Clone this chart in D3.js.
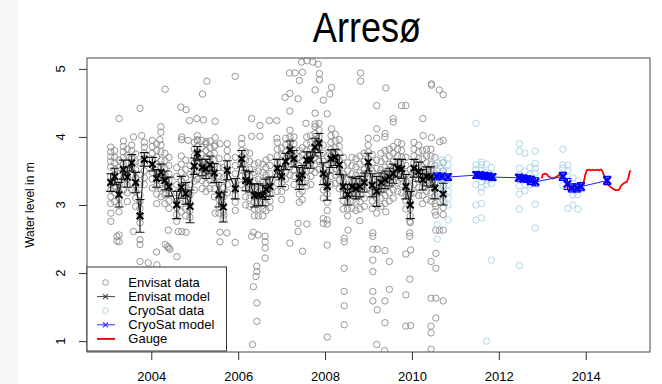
<!DOCTYPE html>
<html><head><meta charset="utf-8">
<script src="https://cdn.jsdelivr.net/npm/d3@7/dist/d3.min.js"></script>
<style>
html,body{margin:0;padding:0;background:#fff;}
svg{display:block;font-family:"Liberation Sans",Arial,Helvetica,sans-serif;}
</style></head><body>
<svg id="chart" width="662" height="384"></svg>
<script>
// ---- labels and axis settings ----
const titleText = "Arresø";
const yLabel = "Water level in m";
const xTicks = [2004, 2006, 2008, 2010, 2012, 2014];
const yTicks = [1, 2, 3, 4, 5];
const xLimits = [2003, 2015];
const yLimits = [1, 5];
const legendLabels = ["Envisat data", "Envisat model", "CryoSat data", "CryoSat model", "Gauge"];

// ---- Envisat model (per pass) ----
const envTime = [2003.066,2003.158,2003.257,2003.356,2003.448,2003.549,2003.641,2003.740,2003.839,2004.023,
  2004.124,2004.223,2004.315,2004.407,2004.585,2004.690,2004.792,2004.891,2004.990,2005.059,
  2005.167,2005.259,2005.351,2005.450,2005.558,2005.657,2005.749,2005.933,2006.081,2006.173,
  2006.265,2006.371,2006.463,2006.564,2006.640,2006.732,2006.900,2007.001,2007.093,2007.192,
  2007.284,2007.406,2007.475,2007.577,2007.669,2007.768,2007.860,2007.959,2008.051,2008.136,
  2008.235,2008.327,2008.419,2008.520,2008.619,2008.711,2008.803,2008.902,2008.994,2009.086,
  2009.188,2009.287,2009.379,2009.478,2009.570,2009.671,2009.763,2009.862,2009.961,2010.046,
  2010.154,2010.246,2010.338,2010.437,2010.529,2010.720];
const envLevel = [3.33,3.42,3.15,3.52,3.41,3.62,3.33,2.84,3.67,3.60,
  3.39,3.48,3.36,3.27,3.00,3.26,3.17,2.98,3.57,3.76,
  3.55,3.53,3.59,3.47,3.15,2.97,3.51,3.24,3.68,3.36,
  3.34,3.14,3.15,3.14,3.23,3.27,3.54,3.42,3.64,3.81,
  3.68,3.39,3.44,3.66,3.66,3.85,3.91,3.46,3.27,3.68,
  3.70,3.59,3.27,3.15,3.27,3.24,3.27,3.33,3.63,3.29,
  3.20,3.33,3.37,3.41,3.46,3.54,3.53,3.27,3.00,3.54,
  3.49,3.37,3.42,3.41,3.25,3.16];
const envErr = [0.13,0.12,0.18,0.14,0.15,0.12,0.15,0.24,0.10,0.10,
  0.13,0.12,0.14,0.14,0.20,0.16,0.16,0.24,0.12,0.10,
  0.12,0.14,0.13,0.14,0.18,0.22,0.14,0.15,0.12,0.15,
  0.15,0.17,0.16,0.15,0.15,0.14,0.13,0.15,0.12,0.13,
  0.12,0.16,0.14,0.12,0.12,0.13,0.14,0.16,0.20,0.13,
  0.12,0.14,0.17,0.15,0.14,0.15,0.15,0.14,0.13,0.17,
  0.22,0.14,0.13,0.13,0.14,0.13,0.14,0.18,0.20,0.13,
  0.14,0.15,0.14,0.15,0.16,0.16];

// ---- Envisat observations grouped by pass (same order as envTime) ----
const envColumns = [
  [3.85,3.78,3.71,3.64,3.56,3.42,3.30,3.22,3.12,3.02],
  [3.80,3.70,3.62,3.52,3.45,3.36,3.28,3.18,3.05],
  [3.66,3.55,3.42,3.30,3.20,3.10,3.00,2.90],
  [3.86,3.78,3.70,3.60,3.50,3.40,3.31,3.22],
  [3.82,3.73,3.62,3.50,3.40,3.30,3.18,3.05],
  [3.88,3.80,3.70,3.62,3.54,3.45,3.32,3.22],
  [3.75,3.64,3.52,3.40,3.30,3.20,3.10,2.98],
  [3.62,3.45,3.30,3.15,3.05,2.95,2.85,2.74],
  [3.92,3.85,3.76,3.68,3.60,3.50,3.40,3.30],
  [3.95,3.86,3.76,3.66,3.58,3.48,3.38,3.25],
  [3.80,3.70,3.60,3.48,3.38,3.28,3.16,3.02],
  [3.88,3.78,3.66,3.55,3.45,3.36,3.24,3.12],
  [3.76,3.65,3.54,3.44,3.35,3.25,3.15,3.02],
  [3.70,3.58,3.46,3.36,3.26,3.16,3.06,2.95],
  [3.55,3.42,3.30,3.18,3.06,2.96,2.86,2.76],
  [3.72,3.60,3.48,3.36,3.26,3.14,3.02,2.90],
  [3.66,3.52,3.40,3.28,3.16,3.05,2.94,2.84],
  [3.58,3.45,3.30,3.15,3.02,2.92,2.82],
  [3.92,3.82,3.72,3.62,3.54,3.45,3.35,3.22],
  [4.02,3.95,3.86,3.78,3.70,3.60,3.50,3.38],
  [3.95,3.85,3.74,3.64,3.55,3.46,3.36,3.24],
  [3.90,3.80,3.70,3.60,3.52,3.42,3.32,3.20],
  [3.94,3.84,3.74,3.65,3.56,3.46,3.36,3.24],
  [3.86,3.76,3.66,3.56,3.46,3.36,3.24,3.12],
  [3.68,3.55,3.42,3.30,3.18,3.08,2.98,2.88],
  [3.55,3.40,3.26,3.12,3.00,2.90,2.80],
  [3.90,3.80,3.70,3.60,3.50,3.40,3.30,3.18],
  [3.70,3.58,3.46,3.34,3.24,3.14,3.04,2.92],
  [3.98,3.90,3.80,3.70,3.62,3.52,3.42,3.30],
  [3.78,3.66,3.54,3.44,3.34,3.24,3.12,3.00],
  [3.76,3.64,3.52,3.42,3.32,3.22,3.10,2.98],
  [3.60,3.48,3.36,3.24,3.14,3.04,2.94,2.84],
  [3.62,3.50,3.38,3.26,3.14,3.04,2.94,2.84],
  [3.60,3.48,3.36,3.25,3.14,3.04,2.94,2.84],
  [3.66,3.55,3.44,3.32,3.22,3.12,3.02,2.92],
  [3.70,3.58,3.46,3.36,3.26,3.16,3.06,2.96],
  [3.92,3.82,3.72,3.62,3.52,3.42,3.32,3.20],
  [3.84,3.74,3.62,3.52,3.42,3.32,3.20,3.08],
  [3.98,3.88,3.78,3.68,3.58,3.48,3.38,3.26],
  [4.10,4.00,3.92,3.84,3.75,3.66,3.56,3.44],
  [4.00,3.90,3.80,3.70,3.62,3.52,3.42,3.30],
  [3.80,3.70,3.58,3.48,3.38,3.28,3.16,3.04],
  [3.84,3.74,3.64,3.52,3.42,3.32,3.20,3.08],
  [4.00,3.90,3.80,3.70,3.60,3.50,3.40,3.28],
  [4.02,3.92,3.82,3.72,3.62,3.52,3.42,3.30],
  [4.15,4.05,3.96,3.88,3.80,3.70,3.60,3.48],
  [4.20,4.10,4.00,3.92,3.84,3.74,3.64,3.52],
  [3.88,3.76,3.64,3.54,3.44,3.34,3.22,3.10],
  [3.72,3.60,3.48,3.36,3.26,3.16,3.04,2.92],
  [4.02,3.92,3.82,3.72,3.62,3.52,3.42,3.30],
  [4.04,3.94,3.84,3.74,3.64,3.54,3.44,3.32],
  [3.96,3.86,3.76,3.66,3.56,3.46,3.36,3.24],
  [3.70,3.58,3.46,3.36,3.26,3.16,3.06,2.94],
  [3.62,3.50,3.38,3.26,3.14,3.04,2.94,2.84],
  [3.70,3.58,3.46,3.36,3.26,3.16,3.06,2.95],
  [3.68,3.56,3.44,3.34,3.24,3.14,3.04,2.92],
  [3.72,3.60,3.48,3.36,3.26,3.16,3.05,2.94],
  [3.76,3.64,3.52,3.42,3.32,3.22,3.10,2.98],
  [3.98,3.88,3.78,3.68,3.58,3.48,3.38,3.26],
  [3.74,3.62,3.50,3.38,3.28,3.18,3.06,2.95],
  [3.66,3.54,3.42,3.30,3.20,3.10,3.00,2.88],
  [3.76,3.64,3.52,3.42,3.32,3.22,3.10,2.98],
  [3.80,3.68,3.56,3.46,3.36,3.26,3.14,3.02],
  [3.82,3.72,3.60,3.50,3.40,3.30,3.18,3.06],
  [3.86,3.76,3.64,3.54,3.44,3.34,3.22,3.10],
  [3.92,3.82,3.72,3.62,3.52,3.42,3.32,3.20],
  [3.90,3.80,3.70,3.60,3.50,3.40,3.30,3.18],
  [3.70,3.58,3.46,3.36,3.26,3.16,3.06,2.94],
  [3.52,3.40,3.28,3.16,3.04,2.94,2.84,2.74],
  [3.92,3.82,3.72,3.62,3.52,3.42,3.30,3.18],
  [3.88,3.78,3.68,3.58,3.48,3.38,3.26,3.14],
  [3.80,3.68,3.56,3.46,3.36,3.26,3.14,3.02],
  [3.82,3.72,3.62,3.52,3.42,3.32,3.20,3.08],
  [3.82,3.72,3.60,3.50,3.40,3.30,3.18,3.06],
  [3.70,3.58,3.46,3.34,3.24,3.14,3.02,2.90],
  [3.62,3.50,3.38,3.28,3.16,3.06,2.96,2.86]
];
// Envisat observations far from the pass median: [time, level]
const envOutliers = [
  [2005.93,4.89],[2005.28,4.82],[2004.32,4.70],[2005.18,4.63],[2003.74,4.42],[2004.68,4.44],[2004.80,4.40],
  [2003.26,4.27],[2004.88,4.24],[2005.05,4.27],[2005.20,4.25],[2005.47,4.23],[2006.31,4.27],[2006.50,4.17],
  [2006.72,4.24],[2004.22,4.15],[2004.22,4.07],[2003.59,4.00],[2003.36,3.94],[2003.78,4.02],[2004.20,3.96],
  [2004.12,3.90],[2004.70,4.00],[2004.70,3.96],[2004.85,3.95],[2005.06,3.96],[2005.26,3.93],[2005.47,3.99],
  [2005.47,3.88],[2005.58,3.90],[2006.31,4.01],[2006.50,4.01],[2006.89,3.98],
  [2003.07,2.88],[2003.07,2.76],[2003.26,2.56],[2003.26,2.46],[2003.59,2.61],[2003.74,2.49],[2003.74,2.42],
  [2003.74,2.17],[2004.12,2.31],[2004.37,2.39],[2004.43,2.35],[2003.93,2.15],[2004.59,2.24],[2004.39,2.63],
  [2004.62,2.61],[2004.70,2.61],[2004.80,2.60],[2005.47,2.88],[2005.67,2.85],[2005.58,2.60],[2005.58,2.46],
  [2005.74,2.59],[2005.93,2.45],[2006.35,2.60],[2006.31,2.54],[2006.46,2.56],[2006.62,2.54],[2006.62,2.46],
  [2006.62,2.37],[2006.62,2.22],[2006.43,2.10],[2006.43,2.02],[2006.41,1.95],[2006.35,1.80],[2006.43,1.56],
  [2006.43,1.29],[2006.33,0.95],[2003.21,2.54],[2003.21,2.47],[2004.32,2.42],[2004.40,2.37],[2004.13,2.12],
  [2007.46,5.10],[2007.58,5.12],[2007.72,5.10],[2007.84,5.07],[2007.18,4.94],[2007.31,4.94],[2007.48,4.95],
  [2007.87,4.93],[2007.41,4.83],[2007.87,4.84],[2008.82,4.94],[2008.82,4.82],[2008.15,4.73],[2008.11,4.63],
  [2007.77,4.69],[2007.96,4.54],[2008.05,4.34],[2009.40,4.72],[2007.08,4.58],[2007.19,4.64],[2007.38,4.56],
  [2007.77,4.35],[2007.19,4.38],[2006.89,4.24],[2009.19,4.46],[2009.76,4.46],[2009.86,4.46],[2009.57,4.27],
  [2009.57,4.22],[2010.25,4.27],[2010.45,4.78],[2010.45,4.76],[2010.63,4.69],[2010.72,4.62],[2009.19,4.12],
  [2009.19,3.98],[2009.38,4.05],[2009.38,4.00],[2007.56,4.20],[2007.77,4.19],[2008.15,4.12],[2010.26,4.02],
  [2010.45,3.99],[2010.64,3.93],[2010.72,3.95],
  [2007.38,2.73],[2007.38,2.61],[2007.58,2.72],[2007.96,2.80],[2007.96,2.73],[2008.05,2.78],[2008.05,2.72],
  [2008.44,2.51],[2008.44,2.46],[2008.53,2.63],[2008.80,2.77],[2008.05,2.41],[2007.48,2.32],[2008.44,2.07],
  [2009.10,2.59],[2009.10,2.54],[2009.10,2.35],[2009.10,2.19],[2009.10,2.02],[2009.10,1.73],[2009.10,1.59],
  [2009.20,2.35],[2009.20,1.46],[2009.38,2.33],[2009.38,1.59],[2009.38,1.27],[2009.48,2.17],[2009.48,1.76],
  [2008.44,1.73],[2008.44,1.52],[2008.44,1.24],[2008.05,1.06],[2009.19,0.95],[2009.86,1.22],[2009.86,1.68],
  [2009.86,2.28],[2009.97,1.23],[2009.97,2.34],[2009.95,1.91],[2009.95,2.76],[2009.95,2.59],[2009.95,2.54],
  [2010.44,2.17],[2010.44,1.63],[2010.44,1.22],[2010.44,1.12],[2010.55,2.07],[2010.55,2.29],[2010.55,1.63],
  [2010.55,1.34],[2010.55,2.63],[2010.55,2.85],[2010.55,2.98],[2010.72,1.59],[2010.72,2.63],[2010.63,2.63],
  [2009.40,2.90],[2007.19,2.44],[2009.37,0.86],[2010.44,0.88]
];

// ---- CryoSat model ----
const cryoTime = [2010.575,2010.690,2010.829,2011.484,2011.565,2011.669,2011.761,2011.853,2012.463,2012.566,
  2012.658,2012.739,2012.842,2013.475,2013.579,2013.682,2013.797,2013.890,2014.495];
const cryoLevel = [3.42,3.42,3.41,3.44,3.44,3.43,3.42,3.41,3.40,3.39,
  3.38,3.36,3.34,3.42,3.31,3.25,3.25,3.27,3.36];
const cryoErr = [0.05,0.05,0.05,0.05,0.04,0.05,0.05,0.05,0.05,0.05,
  0.05,0.06,0.06,0.06,0.08,0.06,0.06,0.06,0.06];

// ---- CryoSat observations grouped by pass ----
const cryoDataTime = [2010.582,2010.690,2010.835,2011.473,2011.600,2011.715,2011.830,
  2012.474,2012.601,2012.716,2012.838,2013.475,2013.590,2013.705,2013.820];
const cryoDataColumns = [
  [3.62,3.50,3.30,3.18,2.71,2.50],
  [3.66,3.55,3.38,3.22,3.10],
  [3.69,3.59,3.49,3.39,3.30,3.20,3.10,3.00,2.78],
  [4.20,3.59,3.52,3.30,3.00,2.78],
  [3.63,3.59,3.51,3.41,3.34,3.26,3.19,3.02,2.81],
  [3.60,3.48,3.36,3.30,1.00],
  [3.55,3.45,3.38,3.32,2.19],
  [3.90,3.79,3.54,3.44,3.37,3.28,3.16,2.94,2.11],
  [3.76,3.50,3.40,3.30,3.21],
  [3.55,3.45,3.38,3.30],
  [3.79,3.61,3.54,3.47,3.36,3.01,2.66],
  [3.82,3.59,3.54,3.44,3.29],
  [3.59,3.50,3.37,3.26,2.95],
  [3.40,3.22,3.15,3.00],
  [3.35,3.22,3.15,2.94]
];

// ---- in-situ gauge ----
const gaugeTime = [2012.985,2013.015,2013.061,2013.107,2013.142,2013.199,2013.245,2013.291,2013.337,2013.383,
  2013.429,2013.475,2013.521,2013.567,2013.613,2013.659,2013.728,2013.797,2013.866,2013.912,
  2013.959,2013.993,2014.028,2014.074,2014.120,2014.166,2014.212,2014.258,2014.304,2014.350,
  2014.384,2014.419,2014.465,2014.511,2014.557,2014.603,2014.649,2014.695,2014.741,2014.776,
  2014.810,2014.856,2014.902,2014.948,2014.983,2015.006,2015.029];
const gaugeLevel = [3.39,3.45,3.46,3.45,3.42,3.40,3.39,3.40,3.42,3.44,
  3.45,3.42,3.35,3.30,3.26,3.24,3.23,3.23,3.25,3.28,
  3.35,3.45,3.51,3.52,3.51,3.52,3.51,3.52,3.51,3.52,
  3.50,3.44,3.36,3.30,3.27,3.25,3.23,3.22,3.22,3.23,
  3.28,3.31,3.33,3.34,3.40,3.47,3.51];

// ---- drawing ----
const W = 662, H = 384;
const plot = {left: 87, right: 650, top: 58, bottom: 352};
const svg = d3.select("#chart");

// R-style 4% axis extension
const ext = lim => [lim[0] - 0.04 * (lim[1] - lim[0]), lim[1] + 0.04 * (lim[1] - lim[0])];
const x = d3.scaleLinear().domain(ext(xLimits)).range([plot.left, plot.right]);
const y = d3.scaleLinear().domain(ext(yLimits)).range([plot.bottom, plot.top]);

svg.append("rect").attr("width", W).attr("height", H).attr("fill", "#fff");
svg.append("rect").attr("width", 18).attr("height", H).attr("fill", "#f6f6f6");

svg.append("defs").append("clipPath").attr("id", "plotclip")
  .append("rect").attr("x", plot.left).attr("y", plot.top)
  .attr("width", plot.right - plot.left).attr("height", plot.bottom - plot.top);

const g = svg.append("g").attr("clip-path", "url(#plotclip)");

const crossPath = s => `M${-s},${-s}L${s},${s}M${-s},${s}L${s},${-s}`;

// Envisat observations
const envPoints = envColumns.flatMap((col, i) => col.map(v => [envTime[i], v])).concat(envOutliers);
g.append("g").selectAll("circle").data(envPoints).join("circle")
  .attr("cx", d => x(d[0])).attr("cy", d => y(d[1])).attr("r", 3.2)
  .attr("fill", "none").attr("stroke", "#8c8c8c").attr("stroke-width", 0.9);

// CryoSat observations
const cryoPoints = cryoDataColumns.flatMap((col, i) => col.map(v => [cryoDataTime[i], v]));
g.append("g").selectAll("circle").data(cryoPoints).join("circle")
  .attr("cx", d => x(d[0])).attr("cy", d => y(d[1])).attr("r", 3.2)
  .attr("fill", "none").attr("stroke", "#a9d3e3").attr("stroke-width", 0.9);

// Envisat model: line, error bars, markers
const envModel = envTime.map((t, i) => ({t, v: envLevel[i], e: envErr[i]}));
g.append("path").datum(envModel)
  .attr("d", d3.line().x(d => x(d.t)).y(d => y(d.v)))
  .attr("fill", "none").attr("stroke", "#111").attr("stroke-width", 1);
const envBars = g.append("g").attr("stroke", "#111").attr("stroke-width", 1.1);
envModel.forEach(d => {
  const cx = x(d.t), y0 = y(d.v - d.e), y1 = y(d.v + d.e);
  envBars.append("path").attr("d", `M${cx},${y0}V${y1}M${cx - 4.5},${y0}H${cx + 4.5}M${cx - 4.5},${y1}H${cx + 4.5}`);
});
g.append("g").selectAll("path").data(envModel).join("path")
  .attr("transform", d => `translate(${x(d.t)},${y(d.v)})`)
  .attr("d", crossPath(3.3)).attr("stroke", "#000").attr("stroke-width", 2);

// Gauge
const gauge = gaugeTime.map((t, i) => ({t, v: gaugeLevel[i]}));
g.append("path").datum(gauge)
  .attr("d", d3.line().x(d => x(d.t)).y(d => y(d.v)))
  .attr("fill", "none").attr("stroke", "#ff0000").attr("stroke-width", 1.8);

// CryoSat model
const cryoModel = cryoTime.map((t, i) => ({t, v: cryoLevel[i], e: cryoErr[i]}));
g.append("path").datum(cryoModel)
  .attr("d", d3.line().x(d => x(d.t)).y(d => y(d.v)))
  .attr("fill", "none").attr("stroke", "#2020ff").attr("stroke-width", 1);
const cryoBars = g.append("g").attr("stroke", "#0000ff").attr("stroke-width", 1.1);
cryoModel.forEach(d => {
  const cx = x(d.t), y0 = y(d.v - d.e), y1 = y(d.v + d.e);
  cryoBars.append("path").attr("d", `M${cx},${y0}V${y1}M${cx - 4},${y0}H${cx + 4}M${cx - 4},${y1}H${cx + 4}`);
});
g.append("g").selectAll("path").data(cryoModel).join("path")
  .attr("transform", d => `translate(${x(d.t)},${y(d.v)})`)
  .attr("d", crossPath(3.6)).attr("stroke", "#0000ff").attr("stroke-width", 2.4);

// Plot frame
svg.append("rect").attr("x", plot.left).attr("y", plot.top)
  .attr("width", plot.right - plot.left).attr("height", plot.bottom - plot.top)
  .attr("fill", "none").attr("stroke", "#444").attr("stroke-width", 1);

// X axis
const xAxis = svg.append("g").attr("transform", `translate(0,${plot.bottom})`)
  .call(d3.axisBottom(x).tickValues(xTicks).tickSize(8).tickPadding(12).tickFormat(d3.format("d")));
xAxis.select(".domain").remove();
xAxis.selectAll("line").attr("stroke", "#333");
xAxis.selectAll("text").attr("fill", "#000").style("font-size", "13px")
  .style("font-family", "'Liberation Sans', Arial, sans-serif");

// Y axis (labels parallel to the axis)
const yAxis = svg.append("g").attr("transform", `translate(${plot.left},0)`)
  .call(d3.axisLeft(y).tickValues(yTicks).tickSize(8).tickFormat(""));
yAxis.select(".domain").remove();
yAxis.selectAll("line").attr("stroke", "#333");
svg.append("g").selectAll("text").data(yTicks).join("text")
  .attr("transform", d => `translate(65,${y(d)}) rotate(-90)`)
  .attr("text-anchor", "middle").style("font-size", "13px").text(d => d);

// Axis title
svg.append("text").attr("transform", `translate(34,${(plot.top + plot.bottom) / 2}) rotate(-90)`)
  .attr("text-anchor", "middle").style("font-size", "12px").text(yLabel);

// Title
svg.append("text").attr("transform", "translate(367,42) scale(0.84,1)")
  .attr("text-anchor", "middle").style("font-size", "43px").text(titleText);

// Legend
const lg = svg.append("g");
lg.append("rect").attr("x", plot.left).attr("y", 267).attr("width", 139.5).attr("height", 84)
  .attr("fill", "#fff").attr("stroke", "#333").attr("stroke-width", 1);
const rowY = i => 282.5 + i * 14.1;
const symX = 105.5;
legendLabels.forEach((label, i) => {
  const yy = rowY(i);
  if (i === 0 || i === 2) {
    lg.append("circle").attr("cx", symX).attr("cy", yy).attr("r", 2.8)
      .attr("fill", "none").attr("stroke", i === 0 ? "#8c8c8c" : "#a9d3e3").attr("stroke-width", 0.9);
  } else {
    const col = i === 1 ? "#444" : i === 3 ? "#3030ff" : "#e00000";
    lg.append("line").attr("x1", 97).attr("x2", 115).attr("y1", yy).attr("y2", yy)
      .attr("stroke", col).attr("stroke-width", i === 4 ? 1.8 : 1);
    if (i !== 4) {
      lg.append("path").attr("transform", `translate(${symX},${yy})`).attr("d", crossPath(2.5))
        .attr("stroke", col).attr("stroke-width", 1.1);
    }
  }
  lg.append("text").attr("x", 128.3).attr("y", yy).attr("dy", "0.35em")
    .style("font-size", "13px").text(label);
});
</script>
</body></html>
